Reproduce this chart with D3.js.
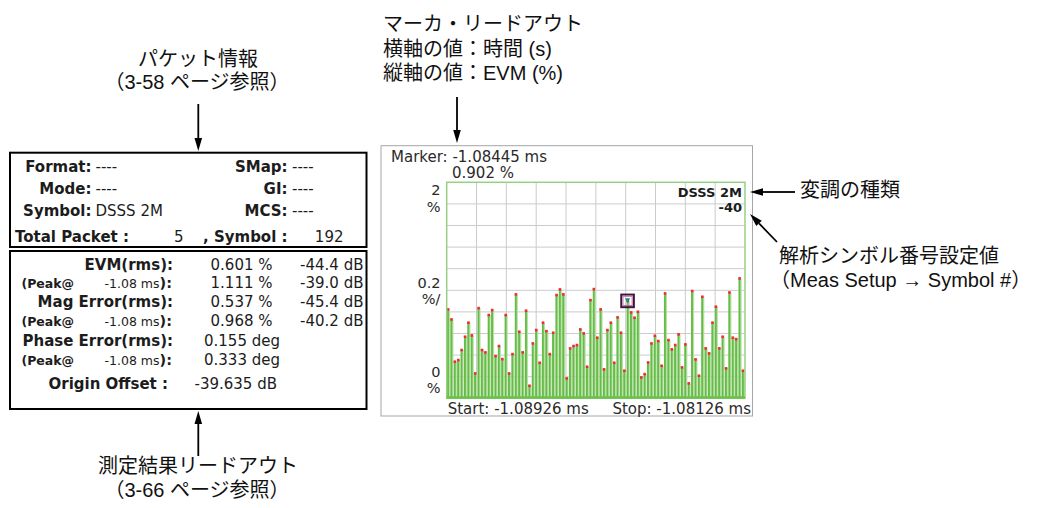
<!DOCTYPE html>
<html>
<head>
<meta charset="utf-8">
<script src="https://cdn.jsdelivr.net/npm/d3@7"></script>
<style>
  body { margin: 0; background: #fff; }
  svg { display: block; }
</style>
</head>
<body>
<svg id="chart" width="1045" height="508"></svg>
<script>
// ---- EVM versus time, one value per chip (%) ----
const evmPercent = [
  0.824, 0.731, 0.340, 0.355, 0.448, 0.571, 0.701, 0.583, 0.231, 0.836,
  0.448, 0.426, 0.772, 0.818, 0.392, 0.485, 0.364, 0.772, 0.231, 0.410,
  0.963, 0.617, 0.426, 0.812, 0.117, 0.509, 0.633, 0.330, 0.701, 0.623,
  0.410, 0.608, 0.957, 1.009, 0.963, 0.185, 0.463, 0.485, 0.494, 0.639,
  0.602, 0.293, 0.910, 1.012, 0.562, 0.824, 0.269, 0.633, 0.701, 0.330,
  0.750, 0.608, 0.256, 0.902, 0.796, 0.747, 0.802, 0.194, 0.225, 0.333,
  0.509, 0.580, 0.531, 0.302, 0.972, 0.540, 0.454, 0.494, 0.593, 0.287,
  0.500, 0.139, 0.994, 0.361, 0.210, 0.941, 0.463, 0.417, 0.701, 0.849,
  0.463, 0.571, 0.278, 0.981, 0.562, 0.549, 1.111, 0.256
];
const markerIndex = 53;
const markerReadout = ["Marker: -1.08445 ms", "0.902 %"];
const timeLabels = ["Start: -1.08926 ms", "Stop: -1.08126 ms"];
const yTopLabel = ["2", "%"];
const yDivLabel = ["0.2", "%/"];
const yBottomLabel = ["0", "%"];
const yDomain = [0, 2];
const gridDivisions = 10;
const modulationLabel = ["DSSS 2M", "-40"];

// ---- packet information ----
const packetLabelsLeft = ["Format:", "Mode:", "Symbol:"];
const packetValuesLeft = ["----", "----", "DSSS 2M"];
const packetLabelsRight = ["SMap:", "GI:", "MCS:"];
const packetValuesRight = ["----", "----", "----"];
const totalPacket = "5";
const symbolCount = "192";

// ---- measurement results ----
const resultLabels = ["EVM(rms):", null, "Mag Error(rms):", null, "Phase Error(rms):", null, "Origin Offset :"];
const peakTimes = [null, "-1.08 ms", null, "-1.08 ms", null, "-1.08 ms", null];
const resultValues = ["0.601 %", "1.111 %", "0.537 %", "0.968 %", "0.155 deg", "0.333 deg", "-39.635 dB"];
const resultDb = ["-44.4 dB", "-39.0 dB", "-45.4 dB", "-40.2 dB", null, null, null];

// ---- callouts ----
const calloutPacket = ["パケット情報", "（3-58 ページ参照）"];
const calloutMarker = ["マーカ・リードアウト", "横軸の値：時間 (s)", "縦軸の値：EVM (%)"];
const calloutModulation = ["変調の種類"];
const calloutSymbol = ["解析シンボル番号設定値", "（Meas Setup → Symbol #）"];
const calloutResults = ["測定結果リードアウト", "（3-66 ページ参照）"];

const svg = d3.select("#chart");
const instFont = "'DejaVu Sans', Verdana, sans-serif";
const noteFont = "'Liberation Sans', Arial, 'Noto Sans CJK JP', sans-serif";
const ink = "#1c1c1c";

// ================= plot panel =================
const plot = { left: 446.7, right: 745, top: 182.3, bottom: 398.3 };

svg.append("rect")
  .attr("x", 381).attr("y", 145.7).attr("width", 371.5).attr("height", 270.3)
  .attr("fill", "#fff").attr("stroke", "#a6a6a6").attr("stroke-width", 1);

const x = d3.scaleBand()
  .domain(d3.range(evmPercent.length))
  .range([plot.left, plot.right])
  .paddingInner(0).paddingOuter(0);
const y = d3.scaleLinear().domain(yDomain).range([plot.bottom, plot.top]);
const xGrid = d3.scaleLinear().domain([0, gridDivisions]).range([plot.left, plot.right]);

const grid = svg.append("g").attr("stroke", "#cbcbcb").attr("stroke-width", 1);
grid.selectAll("line.v").data(d3.range(1, gridDivisions)).join("line")
  .attr("class", "v")
  .attr("x1", d => xGrid(d)).attr("x2", d => xGrid(d))
  .attr("y1", plot.top).attr("y2", plot.bottom);
grid.selectAll("line.h").data(d3.ticks(yDomain[0], yDomain[1], gridDivisions).slice(1, -1)).join("line")
  .attr("class", "h")
  .attr("x1", plot.left).attr("x2", plot.right)
  .attr("y1", d => y(d)).attr("y2", d => y(d));

// bars: pale body with a darker green stem on the leading edge
const bars = svg.append("g");
bars.selectAll("rect.body").data(evmPercent).join("rect")
  .attr("class", "body")
  .attr("x", (d, i) => x(i) + 0.6)
  .attr("y", d => y(d))
  .attr("width", x.bandwidth() - 0.6)
  .attr("height", d => plot.bottom - y(d))
  .attr("fill", "#b9e1a7");
bars.selectAll("rect.stem").data(evmPercent).join("rect")
  .attr("class", "stem")
  .attr("x", (d, i) => x(i) + 0.3)
  .attr("y", d => y(d))
  .attr("width", 1.9)
  .attr("height", d => plot.bottom - y(d))
  .attr("fill", "#66bc48");
bars.selectAll("rect.tip").data(evmPercent).join("rect")
  .attr("class", "tip")
  .attr("x", (d, i) => x(i) + 0.1)
  .attr("y", d => y(d) - 1.2)
  .attr("width", 2.6).attr("height", 2.6)
  .attr("fill", "#ee2b37");

// plot frame
svg.append("rect")
  .attr("x", plot.left).attr("y", plot.top)
  .attr("width", plot.right - plot.left).attr("height", plot.bottom - plot.top)
  .attr("fill", "none").attr("stroke", "#98d083").attr("stroke-width", 1.5);
svg.append("line")
  .attr("x1", plot.left).attr("x2", plot.right)
  .attr("y1", plot.bottom - 0.8).attr("y2", plot.bottom - 0.8)
  .attr("stroke", "#6cc04c").attr("stroke-width", 2.6);

// marker
const mx = x(markerIndex) + 1.2, my = y(evmPercent[markerIndex]);
svg.append("rect")
  .attr("x", mx - 6.3).attr("y", my - 6.3).attr("width", 12.6).attr("height", 12.6)
  .attr("fill", "none").attr("stroke", "#3a1738").attr("stroke-width", 2);
svg.append("rect")
  .attr("x", mx - 4.6).attr("y", my - 4.6).attr("width", 9.2).attr("height", 9.2)
  .attr("fill", "none").attr("stroke", "#c66bb6").attr("stroke-width", 1);
svg.append("path")
  .attr("d", `M${mx - 2.6},${my - 2.6} L${mx + 2.6},${my - 2.6} L${mx},${my + 2} Z`)
  .attr("fill", "#2b8583");

// panel text
const instText = (tx, ty, str, opts = {}) => svg.append("text")
  .attr("x", tx).attr("y", ty)
  .attr("font-family", instFont)
  .attr("font-size", opts.size || 15)
  .attr("font-weight", opts.weight || "normal")
  .attr("text-anchor", opts.anchor || "start")
  .attr("fill", opts.fill || ink)
  .text(str);

const axisInk = "#2a2a2a";
instText(391, 161.5, markerReadout[0], { fill: axisInk });
instText(452, 178, markerReadout[1], { fill: axisInk });
instText(440.5, y(yDomain[1]) + 12.7, yTopLabel[0], { anchor: "end", fill: axisInk, size: 14.5 });
instText(440.5, y(yDomain[1]) + 29.5, yTopLabel[1], { anchor: "end", fill: axisInk, size: 14.5 });
instText(440.5, y(1) - 2.5, yDivLabel[0], { anchor: "end", fill: axisInk, size: 14.5 });
instText(440.5, y(1) + 13.5, yDivLabel[1], { anchor: "end", fill: axisInk, size: 14.5 });
instText(440.5, y(yDomain[0]) - 21.3, yBottomLabel[0], { anchor: "end", fill: axisInk, size: 14.5 });
instText(440.5, y(yDomain[0]) - 5.3, yBottomLabel[1], { anchor: "end", fill: axisInk, size: 14.5 });
instText(plot.left + 1, 414, timeLabels[0], { fill: axisInk });
instText(751, 414, timeLabels[1], { anchor: "end", fill: axisInk });
instText(742, 197, modulationLabel[0], { anchor: "end", weight: "bold", size: 13 });
instText(742, 212, modulationLabel[1], { anchor: "end", weight: "bold", size: 13 });

// ================= packet information box =================
svg.append("rect").attr("x", 10).attr("y", 152.7).attr("width", 356.5).attr("height", 94.3)
  .attr("fill", "none").attr("stroke", "#000").attr("stroke-width", 2);
const packetRows = [171.5, 193.5, 215.5];
packetLabelsLeft.forEach((lab, i) => {
  instText(91.5, packetRows[i], lab, { anchor: "end", weight: "bold", size: 15 });
  instText(95.5, packetRows[i], packetValuesLeft[i], { size: 15 });
  instText(287.5, packetRows[i], packetLabelsRight[i], { anchor: "end", weight: "bold", size: 15 });
  instText(292, packetRows[i], packetValuesRight[i], { size: 15 });
});
const totalRowY = 241.5;
instText(15, totalRowY, "Total Packet :", { weight: "bold", size: 15 });
instText(183.5, totalRowY, totalPacket, { anchor: "end", size: 15 });
instText(203, totalRowY, ", Symbol :", { weight: "bold", size: 15 });
instText(343.5, totalRowY, symbolCount, { anchor: "end", size: 15 });

// ================= results box =================
svg.append("rect").attr("x", 10).attr("y", 251).attr("width", 356.5).attr("height", 158)
  .attr("fill", "none").attr("stroke", "#000").attr("stroke-width", 2);
const resultRowsY = [269.5, 288, 307, 326, 346, 365, 389];
resultRowsY.forEach((ry, i) => {
  if (resultLabels[i]) {
    const lab = resultLabels[i];
    const isOrigin = i === resultLabels.length - 1;
    instText(isOrigin ? 168 : 173, ry, lab, { anchor: "end", weight: "bold", size: 15 });
  } else {
    instText(21.5, ry, "(Peak@", { weight: "bold", size: 12.5 });
    const t = svg.append("text")
      .attr("x", 172).attr("y", ry)
      .attr("font-family", instFont).attr("text-anchor", "end").attr("fill", ink);
    t.append("tspan").attr("font-size", 12.5).text(peakTimes[i]);
    t.append("tspan").attr("font-size", 14.5).attr("font-weight", "bold").text("):");
  }
  const val = resultValues[i];
  if (val.endsWith("%")) {
    instText(272.5, ry, val, { anchor: "end", size: 15 });
  } else if (i === resultLabels.length - 1) {
    instText(194.5, ry, val, { size: 15 });
  } else {
    instText(204, ry, val, { size: 15 });
  }
  if (resultDb[i]) instText(363.5, ry, resultDb[i], { anchor: "end", size: 15 });
});

// ================= callouts =================
const noteText = (tx, ty, str, anchor) => svg.append("text")
  .attr("x", tx).attr("y", ty)
  .attr("font-family", noteFont).attr("font-size", 20)
  .attr("text-anchor", anchor || "start").attr("fill", "#111")
  .text(str);

function arrow(x1, y1, x2, y2) {
  const ang = Math.atan2(y2 - y1, x2 - x1);
  const len = 13, half = 3.8;
  const bx = x2 - len * Math.cos(ang), by = y2 - len * Math.sin(ang);
  svg.append("line").attr("x1", x1).attr("y1", y1).attr("x2", bx).attr("y2", by)
    .attr("stroke", "#000").attr("stroke-width", 1.8);
  const px = -Math.sin(ang) * half, py = Math.cos(ang) * half;
  svg.append("path")
    .attr("d", `M${x2},${y2} L${bx + px},${by + py} L${bx - px},${by - py} Z`)
    .attr("fill", "#000");
}

noteText(198, 66, calloutPacket[0], "middle");
noteText(197, 89, calloutPacket[1], "middle");
arrow(198.3, 104, 198.3, 151);

calloutMarker.forEach((s, i) => noteText(383, 31 + i * 24.5, s));
arrow(457, 97, 457, 143);

noteText(800, 197, calloutModulation[0]);
arrow(795, 192, 750, 192);

noteText(779, 263, calloutSymbol[0]);
noteText(770, 287, calloutSymbol[1]);
arrow(777, 242, 750, 214);

noteText(198, 473, calloutResults[0], "middle");
noteText(197, 497, calloutResults[1], "middle");
arrow(198.3, 456, 198.3, 411);
</script>
</body>
</html>
